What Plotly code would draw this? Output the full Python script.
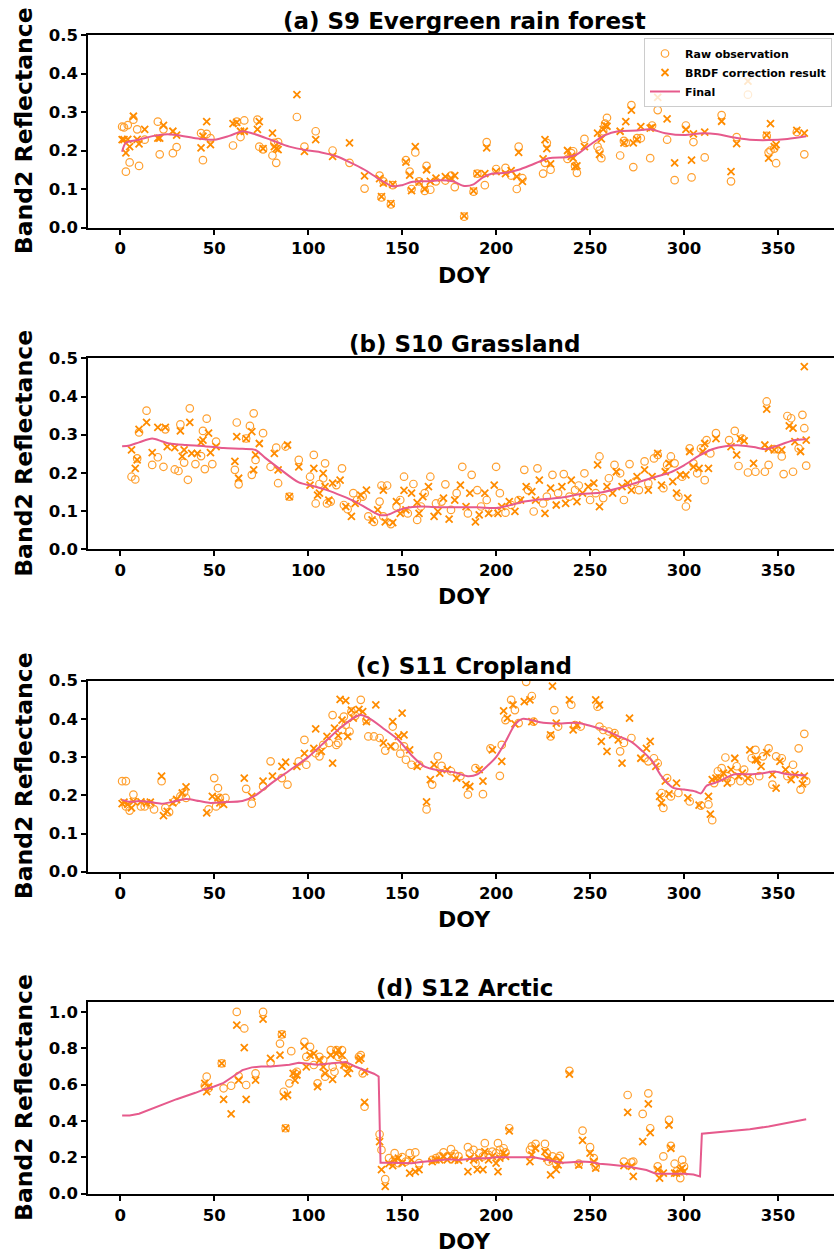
import plotly.graph_objects as go

# ---------------- data ----------------
# Panel (a) S9 Evergreen rain forest
A_DOY = [1, 2, 3, 4, 5, 7, 9, 10, 13, 20,
         21, 23, 28, 30, 43, 44, 46, 48, 60, 62,
         64, 66, 73, 74, 76, 81, 82, 83, 84, 94,
         98, 104, 113, 122, 130, 138, 139, 140, 144, 145,
         152, 154, 155, 157, 159, 162, 163, 165, 168, 173,
         176, 178, 183, 188, 190, 194, 195, 200, 205, 208,
         211, 212, 214, 225, 226, 227, 229, 238, 240, 241,
         242, 243, 247, 254, 255, 256, 257, 258, 259, 266,
         268, 269, 272, 273, 275, 277, 282, 283, 286, 291,
         295, 301, 304, 305, 311, 320, 325, 328, 334, 344,
         345, 346, 348, 349, 360, 364]
A_RAW = [.262, .26, .145, .266, .169, .28, .255, .160, .228, .275,
         .19, .255, .193, .209, .245, .175, .243, .232, .213, .275,
         .235, .278, .28, .21, .203, .187, .22, .168, .222, .287,
         .21, .25, .2, .168, .101, .135, .078, .12, .06, .11,
         .175, .145, .1, .195, .12, .095, .16, .098, .12, .122,
         .135, .105, .028, .093, .14, .11, .222, .152, .155, .135,
         .1, .21, .128, .14, .168, .22, .15, .178, .193, .198,
         .16, .142, .23, .21, .2, .18, .25, .27, .285, .187,
         .225, .22, .318, .157, .232, .232, .18, .265, .305, .228,
         .123, .265, .13, .222, .182, .292, .12, .235, .345, .238,
         .195, .2, .205, .167, .248, .19]
A_BRDF = [.228, .228, .194, .229, .21, .289, .229, .217, .255, .232,
          .232, .265, .25, .24, .207, .237, .275, .215, .27, .273,
          .25, .25, .255, .275, .205, .245, .21, .205, .202, .345,
          .198, .228, .185, .22, .134, .127, .08, .115, .062, .112,
          .17, .136, .096, .21, .118, .1, .15, .12, .128, .132,
          .128, .135, .03, .095, .14, .14, .207, .145, .14, .148,
          .132, .195, .12, .178, .228, .205, .165, .2, .185, .18,
          .158, .16, .21, .245, .19, .23, .255, .265, .263, .25,
          .22, .275, .305, .22, .228, .262, .258, .26, .338, .282,
          .168, .255, .175, .243, .248, .276, .145, .218, .38, .24,
          .18, .27, .21, .215, .252, .245]
A_FIN_DOY = [1, 3, 10, 18, 25, 30, 40, 50, 58, 65, 70, 80, 90, 100, 107, 115,
             122, 130, 138, 145, 150, 155, 160, 165, 170, 177, 183, 188, 193, 198,
             205, 212, 220, 228, 238, 243, 250, 258, 265, 275, 282, 290, 300, 310,
             318, 325, 335, 345, 355, 365]
A_FIN = [.197, .22, .228, .238, .242, .24, .232, .228, .238, .25, .245, .228, .21, .2, .195, .185,
         .17, .15, .125, .107, .11, .118, .12, .12, .123, .12, .108, .112, .13, .14,
         .142, .15, .165, .18, .183, .19, .215, .24, .25, .252, .255, .245, .24, .245,
         .242, .235, .228, .227, .23, .237]

# Panel (b) S10 Grassland
B_RAW_DOY = [6, 8, 9, 10, 14, 17, 20, 23, 24, 29, 31, 32, 34, 36, 37, 40, 43, 44, 45, 46,
             49, 51, 61, 62, 63, 67, 69, 70, 71, 72, 76, 80, 83, 84, 88, 90, 95, 101, 103, 104,
             106, 108, 109, 110, 112, 115, 118, 119, 121, 124, 126, 129, 132, 135, 138, 139, 140, 142, 144, 147,
             149, 151, 153, 156, 158, 160, 162, 165, 168, 171, 173, 176, 179, 182, 185, 187, 190, 192, 195, 198,
             200, 202, 205, 208, 212, 215, 217, 220, 222, 225, 227, 230, 233, 236, 239, 242, 244, 247, 250, 253,
             255, 257, 260, 263, 266, 268, 271, 274, 276, 279, 281, 284, 286, 289, 291, 293, 295, 297, 299, 301,
             303, 305, 307, 309, 311, 312, 314, 317, 324, 327, 329, 331, 334, 338, 343, 344, 345, 348, 352, 353,
             355, 357, 358, 361, 363, 364, 365]
B_RAW = [.19, .183, .238, .306, .363, .221, .241, .216, .314, .209, .205, .327, .227, .182, .369, .223, .244, .31, .21, .342,
         .223, .282, .208, .332, .17, .29, .323, .195, .356, .234, .304, .216, .266, .173, .269, .138, .234, .19, .247, .12,
         .171, .186, .225, .12, .125, .168, .212, .116, .105, .147, .129, .138, .086, .072, .125, .167, .086, .167, .066, .112,
         .129, .19, .094, .171, .077, .112, .147, .19, .12, .125, .17, .103, .147, .216, .094, .195, .155, .112, .129, .099,
         .216, .147, .096, .116, .129, .208, .155, .099, .212, .12, .138, .195, .147, .197, .138, .155, .167, .199, .129, .147,
         .243, .134, .186, .221, .199, .129, .223, .177, .155, .23, .173, .238, .247, .16, .221, .243, .225, .138, .19, .112,
         .264, .225, .199, .264, .181, .286, .251, .304, .286, .31, .218, .29, .201, .203, .203, .387, .221, .262, .243, .197,
         .349, .343, .203, .264, .352, .317, .219]
B_BRDF_DOY = [6, 8, 9, 10, 14, 17, 20, 24, 25, 29, 32, 33, 34, 37, 38, 41, 43, 44, 47, 48,
              51, 61, 62, 63, 67, 70, 71, 72, 74, 82, 84, 89, 90, 95, 101, 103, 105, 106, 108, 109,
              111, 113, 117, 120, 123, 125, 128, 131, 134, 137, 140, 141, 145, 147, 149, 151, 152, 155, 158, 159,
              161, 164, 167, 169, 172, 175, 178, 181, 184, 186, 189, 191, 194, 196, 199, 201, 203, 207, 210, 213,
              216, 219, 221, 223, 226, 229, 232, 235, 237, 240, 243, 246, 249, 252, 254, 255, 259, 262, 264, 267,
              270, 272, 275, 279, 281, 283, 286, 288, 290, 292, 294, 296, 298, 301, 302, 303, 305, 308, 310, 311,
              313, 317, 325, 328, 330, 332, 337, 343, 344, 345, 348, 352, 356, 358, 359, 362, 364, 365]
B_BRDF = [.26, .212, .234, .314, .332, .253, .319, .319, .269, .266, .31, .243, .26, .332, .251, .251, .28, .286, .304, .253,
          .269, .23, .295, .186, .29, .308, .208, .247, .277, .251, .208, .273, .138, .216, .168, .212, .142, .147, .199, .164,
          .129, .173, .181, .112, .086, .12, .142, .155, .077, .103, .155, .072, .07, .125, .094, .154, .103, .147, .122, .094,
          .138, .164, .086, .099, .134, .079, .129, .168, .112, .147, .072, .09, .147, .094, .168, .094, .112, .125, .099, .129,
          .164, .151, .129, .181, .094, .16, .116, .164, .12, .181, .125, .147, .164, .173, .221, .112, .164, .147, .203, .164,
          .173, .155, .19, .208, .155, .19, .251, .168, .203, .225, .177, .147, .195, .195, .134, .256, .216, .212, .256, .277,
          .212, .29, .269, .247, .29, .284, .225, .273, .367, .264, .26, .26, .323, .317, .282, .256, .478, .286]
B_FIN_DOY = [1, 5, 10, 17, 22, 26, 35, 45, 55, 65, 72, 77, 85, 95, 103, 110,
             118, 125, 132, 138, 142, 147, 152, 160, 170, 180, 190, 200, 207, 215,
             222, 230, 237, 245, 255, 265, 275, 285, 292, 300, 308, 315, 322, 330,
             337, 343, 346, 352, 358, 365]
B_FIN = [.27, .272, .28, .29, .283, .277, .273, .27, .265, .263, .26, .24, .21, .175, .165, .155,
         .14, .125, .105, .09, .09, .1, .108, .112, .11, .11, .11, .108, .115, .125,
         .13, .133, .137, .145, .148, .16, .175, .19, .2, .22, .245, .262, .27, .272,
         .268, .262, .265, .275, .285, .288]

# Panel (c) S11 Cropland
C_RAW_DOY = [1, 3, 3, 5, 7, 11, 13, 16, 18, 22, 24, 26, 29, 32, 34, 35, 47, 50, 51, 52,
             53, 56, 67, 70, 76, 80, 86, 89, 95, 98, 99, 104, 106, 108, 111, 113, 115, 116, 118, 119,
             120, 122, 123, 125, 128, 131, 132, 135, 138, 141, 145, 146, 149, 151, 152, 155, 159, 163, 166, 169,
             171, 176, 181, 185, 189, 193, 197, 202, 203, 205, 208, 210, 212, 216, 219, 220, 229, 231, 233, 240,
             242, 245, 254, 255, 257, 260, 263, 266, 268, 272, 279, 281, 284, 286, 288, 289, 291, 293, 297, 303,
             309, 313, 315, 316, 318, 320, 322, 323, 325, 328, 330, 332, 335, 336, 338, 340, 342, 345, 347, 349,
             352, 355, 358, 361, 362, 364, 365]
C_RAW = [.237, .237, .171, .16, .202, .171, .171, .176, .163, .237, .167, .156, .184, .197, .208, .193, .163, .245, .171, .219,
         .193, .193, .217, .178, .223, .289, .245, .228, .289, .345, .28, .31, .302, .332, .337, .41, .332, .337, .371, .406,
         .384, .367, .419, .408, .45, .397, .354, .354, .35, .317, .38, .328, .309, .328, .293, .28, .28, .163, .228, .302,
         .277, .263, .25, .202, .271, .203, .323, .251, .332, .397, .45, .423, .389, .497, .46, .393, .354, .423, .38, .437,
         .384, .38, .432, .38, .371, .367, .363, .315, .337, .35, .297, .289, .297, .284, .206, .167, .245, .197, .206, .184,
         .173, .176, .135, .232, .263, .271, .299, .25, .237, .276, .237, .267, .237, .297, .319, .25, .302, .323, .228, .302,
         .297, .25, .28, .323, .215, .361, .237]
C_BRDF_DOY = [1, 2, 4, 6, 7, 11, 14, 16, 22, 23, 25, 28, 30, 33, 35, 46, 49, 52, 53, 55,
              66, 70, 76, 81, 86, 88, 94, 98, 103, 104, 107, 110, 113, 114, 116, 117, 118, 120, 121, 123,
              124, 127, 129, 131, 136, 140, 144, 145, 148, 150, 151, 154, 158, 163, 165, 167, 170, 174, 179, 184,
              186, 191, 193, 198, 203, 204, 206, 209, 210, 215, 218, 219, 229, 230, 232, 239, 241, 243, 253, 255,
              256, 259, 262, 265, 267, 271, 277, 280, 282, 285, 287, 288, 290, 292, 296, 302, 308, 313, 314, 315,
              317, 319, 321, 323, 325, 327, 329, 331, 334, 335, 338, 339, 341, 344, 347, 349, 351, 354, 357, 359,
              363, 364]
C_BRDF = [.178, .182, .176, .167, .184, .183, .18, .182, .25, .147, .158, .18, .189, .206, .222, .154, .197, .193, .18, .176,
          .245, .197, .237, .25, .276, .287, .276, .31, .323, .374, .315, .354, .284, .376, .356, .451, .397, .448, .354, .423,
          .402, .425, .419, .393, .437, .337, .328, .393, .354, .415, .358, .319, .276, .183, .241, .28, .258, .267, .245, .228,
          .223, .267, .237, .319, .289, .421, .402, .437, .387, .445, .45, .393, .358, .486, .389, .45, .371, .384, .45, .437,
          .341, .315, .358, .345, .284, .402, .297, .323, .341, .276, .197, .18, .237, .204, .232, .193, .174, .197, .151, .241,
          .245, .245, .258, .232, .267, .297, .25, .258, .245, .319, .293, .293, .276, .312, .254, .219, .289, .267, .241, .254,
          .23, .25]
C_FIN_DOY = [1, 5, 10, 15, 22, 28, 35, 42, 48, 55, 65, 72, 80, 90, 100, 110,
             118, 125, 128, 133, 140, 148, 155, 162, 170, 178, 185, 190, 196, 200,
             205, 210, 214, 218, 225, 235, 243, 250, 258, 265, 272, 278, 283, 288,
             294, 300, 306, 309, 312, 318, 322, 327, 335, 342, 348, 355, 365]
C_FIN = [.188, .183, .185, .183, .178, .183, .19, .185, .18, .182, .185, .2, .23, .265, .3, .345,
         .38, .405, .41, .4, .375, .345, .305, .275, .265, .26, .25, .255, .28, .3,
         .34, .385, .4, .398, .39, .388, .39, .382, .37, .355, .34, .315, .29, .25,
         .22, .215, .21, .205, .225, .235, .245, .255, .255, .258, .262, .255, .252]

# Panel (d) S12 Arctic
D_RAW_DOY = [45, 46, 47, 54, 55, 59, 62, 63, 66, 67, 72, 76, 80, 85, 86, 87, 88, 90, 91, 93,
             94, 98, 99, 101, 103, 105, 106, 108, 109, 112, 113, 114, 115, 116, 118, 119, 120, 127, 128, 129,
             130, 138, 139, 141, 143, 145, 146, 148, 150, 152, 154, 157, 159, 166, 168, 170, 172, 174, 176, 178,
             180, 185, 186, 188, 189, 191, 193, 194, 196, 198, 200, 201, 202, 204, 205, 207, 218, 219, 221, 226,
             227, 228, 230, 232, 233, 234, 239, 244, 246, 250, 252, 253, 268, 270, 272, 273, 278, 281, 282, 286,
             287, 289, 292, 293, 295, 296, 298, 299, 300]
D_RAW = [.594, .644, .58, .717, .58, .594, 1.0, .647, .909, .598, .662, 1.0, .72, .826, .876, .561, .36, .607, .784, .662,
         .671, .835, .753, .808, .708, .607, .753, .735, .644, .79, .698, .671, .79, .753, .79, .726, .698, .753, .762, .662,
         .479, .327, .241, .08, .196, .177, .223, .168, .201, .177, .223, .227, .168, .186, .196, .205, .227, .205, .245, .219,
         .205, .256, .223, .241, .168, .223, .205, .278, .214, .232, .223, .278, .241, .25, .227, .36, .241, .26, .274, .274,
         .223, .177, .205, .168, .196, .208, .676, .165, .347, .256, .196, .15, .177, .543, .172, .177, .439, .552, .36, .15,
         .113, .205, .406, .263, .165, .122, .086, .186, .15]
D_BRDF_DOY = [45, 46, 47, 54, 55, 59, 62, 63, 66, 67, 72, 76, 80, 85, 86, 87, 88, 89, 92, 93,
              94, 98, 99, 101, 103, 105, 106, 108, 109, 112, 113, 115, 116, 118, 119, 121, 122, 127, 128, 130,
              130, 138, 139, 141, 143, 145, 146, 148, 150, 154, 155, 157, 159, 166, 168, 170, 172, 174, 176, 178,
              180, 185, 186, 188, 190, 191, 193, 194, 196, 198, 200, 201, 202, 204, 205, 207, 218, 219, 221, 226,
              227, 229, 230, 232, 233, 234, 239, 244, 246, 250, 252, 253, 268, 270, 272, 273, 278, 281, 282, 286,
              287, 289, 292, 293, 295, 296, 298, 299, 300]
D_BRDF = [.607, .561, .589, .717, .519, .439, .927, .625, .804, .519, .625, .96, .744, .762, .876, .534, .36, .543, .662, .625,
          .653, .812, .698, .762, .771, .589, .735, .698, .662, .762, .629, .771, .79, .762, .708, .662, .689, .735, .744, .671,
          .503, .287, .132, .04, .165, .154, .186, .196, .168, .113, .186, .122, .132, .177, .186, .186, .205, .186, .208, .186,
          .183, .122, .196, .186, .132, .196, .132, .232, .186, .205, .168, .122, .196, .223, .205, .346, .177, .214, .25, .232,
          .196, .104, .186, .132, .159, .183, .658, .157, .293, .223, .177, .141, .154, .448, .15, .095, .287, .494, .336, .132,
          .086, .113, .378, .25, .113, .113, .132, .141, .122]
D_FIN_DOY = [1, 5, 10, 20, 30, 40, 45, 50, 55, 60, 65, 70, 75, 80, 85, 90, 95, 100, 105, 110,
             115, 120, 125, 130, 135, 137.5, 138.5, 145, 150, 155, 160, 165, 170, 175, 180, 185, 190, 195,
             200, 205, 210, 215, 220, 225, 230, 235, 240, 245, 250, 255, 260, 265, 270, 275, 280, 285,
             290, 295, 300, 305, 308.5, 309.5, 315, 325, 335, 345, 355, 365]
D_FIN = [.43, .43, .44, .48, .52, .555, .575, .59, .61, .645, .68, .695, .7, .7, .705, .71, .72, .715, .71, .715,
         .72, .725, .7, .68, .66, .645, .17, .17, .17, .168, .175, .18, .188, .19, .185, .19, .195, .195,
         .2, .2, .198, .2, .2, .19, .18, .17, .173, .177, .175, .165, .16, .155, .15, .14, .13, .11,
         .11, .11, .11, .105, .095, .33, .335, .345, .355, .37, .39, .41]

TITLES = ["(a) S9 Evergreen rain forest", "(b) S10 Grassland", "(c) S11 Cropland", "(d) S12 Arctic"]
X_TICKS = [0, 50, 100, 150, 200, 250, 300, 350]
Y_TICKS_SMALL = [0.0, 0.1, 0.2, 0.3, 0.4, 0.5]
Y_TICKS_ARCTIC = [0.0, 0.2, 0.4, 0.6, 0.8, 1.0]

# ---------------- figure ----------------
W, H = 834, 1255
RAW_COLOR = "#FFA030"
BRDF_COLOR = "#FF8C00"
LINE_COLOR = "#E65A8C"
FONT = "DejaVu Sans"

panels = [
    dict(rx=A_DOY, ry=A_RAW, bx=A_DOY, by=A_BRDF, fx=A_FIN_DOY, fy=A_FIN,
         yr=[0, 0.5], yt=Y_TICKS_SMALL, shape="spline"),
    dict(rx=B_RAW_DOY, ry=B_RAW, bx=B_BRDF_DOY, by=B_BRDF, fx=B_FIN_DOY, fy=B_FIN,
         yr=[0, 0.5], yt=Y_TICKS_SMALL, shape="spline"),
    dict(rx=C_RAW_DOY, ry=C_RAW, bx=C_BRDF_DOY, by=C_BRDF, fx=C_FIN_DOY, fy=C_FIN,
         yr=[0, 0.5], yt=Y_TICKS_SMALL, shape="spline"),
    dict(rx=D_RAW_DOY, ry=D_RAW, bx=D_BRDF_DOY, by=D_BRDF, fx=D_FIN_DOY, fy=D_FIN,
         yr=[0, 1.053], yt=Y_TICKS_ARCTIC, shape="linear"),
]

tops = [35, 358.3, 680.7, 1002.3]
bottoms = [227.5, 549.3, 871.7, 1193.7]
x_left_px = 88.3

fig = go.Figure()
annotations = []
layout = {}
for i, p in enumerate(panels):
    n = "" if i == 0 else str(i + 1)
    xa, ya = "x" + n, "y" + n
    show = i == 0
    fig.add_trace(go.Scatter(
        x=p["rx"], y=p["ry"], mode="markers", name="Raw observation",
        xaxis=xa, yaxis=ya, showlegend=show,
        marker=dict(symbol="circle-open", size=7.5, color=RAW_COLOR,
                    line=dict(width=1.2, color=RAW_COLOR))))
    fig.add_trace(go.Scatter(
        x=p["bx"], y=p["by"], mode="markers", name="BRDF correction result",
        xaxis=xa, yaxis=ya, showlegend=show,
        marker=dict(symbol="x-thin", size=7, color=BRDF_COLOR,
                    line=dict(width=1.8, color=BRDF_COLOR))))
    fig.add_trace(go.Scatter(
        x=p["fx"], y=p["fy"], mode="lines", name="Final",
        xaxis=xa, yaxis=ya, showlegend=show,
        line=dict(color=LINE_COLOR, width=2, shape=p["shape"], smoothing=0.8)))

    dom_y = [1 - bottoms[i] / H, 1 - tops[i] / H]
    axis_common = dict(showline=True, linewidth=2, linecolor="black",
                       ticks="outside", ticklen=5, tickwidth=2, tickcolor="black",
                       showgrid=False, zeroline=False,
                       tickfont=dict(family=FONT, size=16.5, color="black", weight="bold"))
    layout["xaxis" + n] = dict(axis_common, domain=[x_left_px / W, 1], range=[-17.0, 379.8],
                               tickmode="array", tickvals=X_TICKS, mirror=True,
                               anchor=ya)
    layout["yaxis" + n] = dict(axis_common, domain=dom_y, range=p["yr"],
                               tickmode="array", tickvals=p["yt"], tickformat=".1f",
                               anchor=xa)

    annotations.append(dict(text=TITLES[i], xref="paper", yref="paper",
                            x=464 / W, y=1 - (tops[i] - 14.5) / H,
                            xanchor="center", yanchor="middle", showarrow=False,
                            font=dict(family=FONT, size=23, color="black", weight="bold")))
    annotations.append(dict(text="DOY", xref="paper", yref="paper",
                            x=464 / W, y=1 - (bottoms[i] + 47.5) / H,
                            xanchor="center", yanchor="middle", showarrow=False,
                            font=dict(family=FONT, size=22, color="black", weight="bold")))
    annotations.append(dict(text="Band2 Reflectance", xref="paper", yref="paper",
                            x=24 / W, y=1 - (tops[i] + bottoms[i]) / 2 / H,
                            xanchor="center", yanchor="middle", showarrow=False, textangle=-90,
                            font=dict(family=FONT, size=23.5, color="black", weight="bold")))

fig.update_layout(
    width=W, height=H,
    margin=dict(l=0, r=0, t=0, b=0, autoexpand=False),
    paper_bgcolor="white", plot_bgcolor="white",
    annotations=annotations,
    legend=dict(x=644 / W, y=1 - 38 / H, xanchor="left", yanchor="top",
                bgcolor="rgba(255,255,255,0.8)", bordercolor="#cccccc", borderwidth=1,
                font=dict(family=FONT, size=11, color="black", weight="bold"),
                itemwidth=30, tracegroupgap=0),
    **layout,
)

# remove the default 8px page margin so the figure sits at the window's corner
fig.write_html("out.html", config={"displayModeBar": False},
               post_script="document.body.style.margin='0';")
